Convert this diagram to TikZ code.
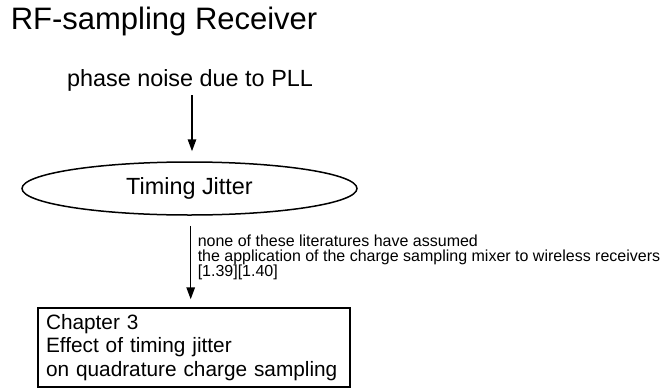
\documentclass[tikz,border=0pt]{standalone}
\usepackage{fontspec}
\setmainfont{Liberation Sans}
\usetikzlibrary{arrows.meta,shapes.geometric,calc}
\begin{document}
\begin{tikzpicture}[x=1pt,y=-1pt,
  line width=1.5pt,
  arr/.style={-{Triangle[length=12pt,width=8.5pt]}, line width=1.5pt},
  bigtext/.style={font=\fontsize{23.4}{27}\selectfont, inner sep=0pt},
  ellbox/.style={draw, ellipse, minimum width=335pt, minimum height=53pt, inner sep=0pt},
  chapbox/.style={draw, rectangle, minimum width=312pt, minimum height=79pt,
    text width=296pt, align=left, inner xsep=8pt, inner ysep=0pt,
    font=\fontsize{20.8}{23.5}\selectfont},
  notetext/.style={font=\fontsize{16}{15}\selectfont, align=left, inner sep=0pt}]
\useasboundingbox (0,0) rectangle (665,389);

% heading
\node[anchor=base west, inner sep=0pt, font=\fontsize{31}{36}\selectfont] (title) at (10,29) {RF-sampling Receiver};

% cause
\node[bigtext, anchor=base] (phase) at (190,86) {phase noise due to PLL};

% effect
\node[ellbox, bigtext] (jitter) at (189.5,188.5) {Timing Jitter};

% chapter box
\node[chapbox] (chap) at (194,347.5) {Chapter 3\\Effect of timing jitter\\on quadrature charge sampling};

% remark beside the second arrow (anchored on its last line)
\node[notetext, anchor=base west] (note) at (197,276) {none of these literatures have assumed\\the application of the charge sampling mixer to wireless receivers\\{}[1.39][1.40]};

% connectors
\draw[arr] ([xshift=2pt,yshift=-9pt]phase.base) -- ([xshift=2.5pt,yshift=10pt]jitter.north);
\draw[arr] ([xshift=1.2pt,yshift=-10pt]jitter.south) -- ([xshift=1.2pt,yshift=8pt]jitter.south |- chap.north);
\end{tikzpicture}
\end{document}
